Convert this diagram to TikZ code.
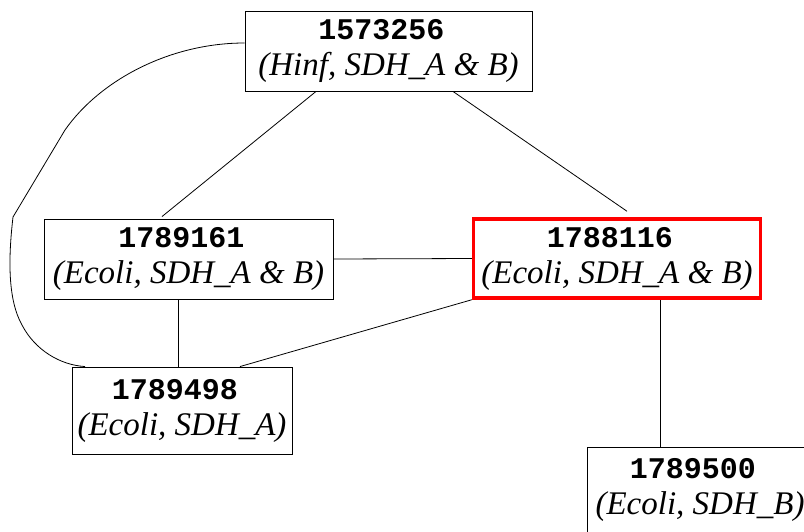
\documentclass[tikz,border=0pt]{standalone}
\usepackage{fontspec}
\setmainfont{Liberation Serif}
\newfontfamily\monob{Liberation Mono}
\usetikzlibrary{calc}
\newcommand\idtext[1]{{\monob\bfseries\fontsize{30}{36}\selectfont #1\kern14pt}}
\begin{document}
\begin{tikzpicture}[x=1pt,y=-1pt,
  box/.style={draw=black,line width=0.9pt,inner sep=0pt,align=center,
    font=\fontsize{33}{36}\selectfont},
  hlbox/.style={box,draw=red,line width=3.5pt},
  edge/.style={draw=black,line width=0.8pt}]
\useasboundingbox (0,0) rectangle (804,531);
\clip (0,0) rectangle (804,531);
\node[box,minimum width=287pt,minimum height=80pt] (t) at (388.5,51)
  {\idtext{1573256}\\\textit{(Hinf, SDH\_A \& B)}};
\node[box,minimum width=289pt,minimum height=80pt] (ml) at (188.5,259)
  {\idtext{1789161}\\\textit{(Ecoli, SDH\_A \& B)}};
\node[hlbox,minimum width=287pt,minimum height=79pt] (red) at (617,258.5)
  {\idtext{1788116}\\\textit{(Ecoli, SDH\_A \& B)}};
\node[box,minimum width=220pt,minimum height=87pt] (bl) at (182,410.5)
  {\idtext{1789498}\\\textit{(Ecoli, SDH\_A)}};
\node[box,minimum width=226pt,minimum height=86pt] (br) at (700,490)
  {\idtext{1789500}\\\textit{(Ecoli, SDH\_B)}};
\draw[edge] ([xshift=-72.5pt]t.south) -- ([xshift=-26.5pt,yshift=2pt]ml.north);
\draw[edge] ([xshift=64.5pt]t.south) -- ([xshift=10pt,yshift=6pt]red.north);
\draw[edge] (ml.east) -- (red.west);
\draw[edge] ([xshift=-10.5pt]ml.south) -- ([xshift=-4pt]bl.north);
\draw[edge] (red.south west) -- ([xshift=58pt]bl.north);
\draw[edge] ([xshift=43pt]red.south) -- ([xshift=43pt]red.south |- br.north);
\draw[edge] ([yshift=8pt]t.west) .. controls (170,43) and (100,80) .. (65,130)
  -- (13,217) .. controls (8,260) and (8,300) .. (22,325)
  .. controls (35,350) and (60,365) .. ([xshift=-97pt]bl.north);
\end{tikzpicture}
\end{document}
